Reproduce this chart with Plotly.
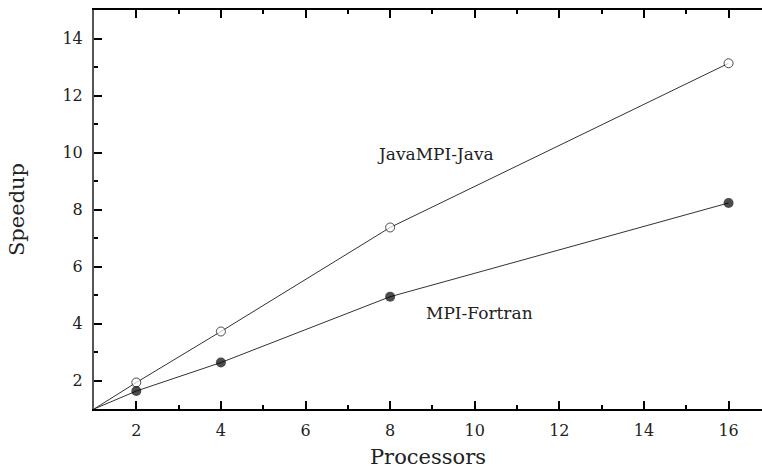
import plotly.graph_objects as go

processors = [1, 2, 4, 8, 16]
java_speedup = [1.0, 1.93, 3.72, 7.37, 13.13]
fortran_speedup = [1.0, 1.63, 2.63, 4.94, 8.23]
java_label = "JavaMPI-Java"
fortran_label = "MPI-Fortran"

font_family = "DejaVu Serif, Liberation Serif, serif"
ink = "#222222"
line_ink = "#333333"

fig = go.Figure()
fig.add_trace(go.Scatter(
    x=processors, y=java_speedup, mode="lines+markers", name=java_label,
    line=dict(color=line_ink, width=1),
    marker=dict(symbol="circle", size=[0, 9, 9, 9, 9], color="white",
                line=dict(color="black", width=1)),
    showlegend=False))
fig.add_trace(go.Scatter(
    x=processors, y=fortran_speedup, mode="lines+markers", name=fortran_label,
    line=dict(color=line_ink, width=1),
    marker=dict(symbol="circle", size=[0, 10, 10, 10, 10], color="black",
                line=dict(color="black", width=0)),
    showlegend=False))

fig.add_annotation(x=9.07, y=9.94, text=java_label, showarrow=False,
                   font=dict(family=font_family, size=17, color=ink))
fig.add_annotation(x=10.11, y=4.37, text=fortran_label, showarrow=False,
                   font=dict(family=font_family, size=17, color=ink))

fig.update_layout(
    width=762, height=469,
    margin=dict(l=94, r=0, t=10, b=60),
    paper_bgcolor="white", plot_bgcolor="white",
    font=dict(family=font_family, size=16, color=ink),
    xaxis=dict(range=[1, 16.79], tickvals=[2, 4, 6, 8, 10, 12, 14, 16],
               ticks="inside", ticklen=8, tickcolor="black", tickwidth=1.5,
               showline=True, linecolor="black", linewidth=2, mirror="ticks",
               showgrid=False, zeroline=False,
               minor=dict(tickvals=[3, 5, 7, 9, 11, 13, 15], ticks="inside",
                          ticklen=4, tickcolor="black", showgrid=False),
               ticklabelstandoff=6,
               title=dict(text="Processors", standoff=10,
                          font=dict(family=font_family, size=21, color=ink))),
    yaxis=dict(range=[1, 15], tickvals=[2, 4, 6, 8, 10, 12, 14],
               ticks="inside", ticklen=8, tickcolor="black", tickwidth=1.5,
               showline=True, linecolor="#555555", linewidth=2,
               showgrid=False, zeroline=False,
               minor=dict(tickvals=[3, 5, 7, 9, 11, 13], ticks="inside",
                          ticklen=4, tickcolor="black", showgrid=False),
               ticklabelstandoff=6,
               title=dict(text="Speedup", standoff=32,
                          font=dict(family=font_family, size=21, color=ink))),
)

fig.write_html("out.html")
